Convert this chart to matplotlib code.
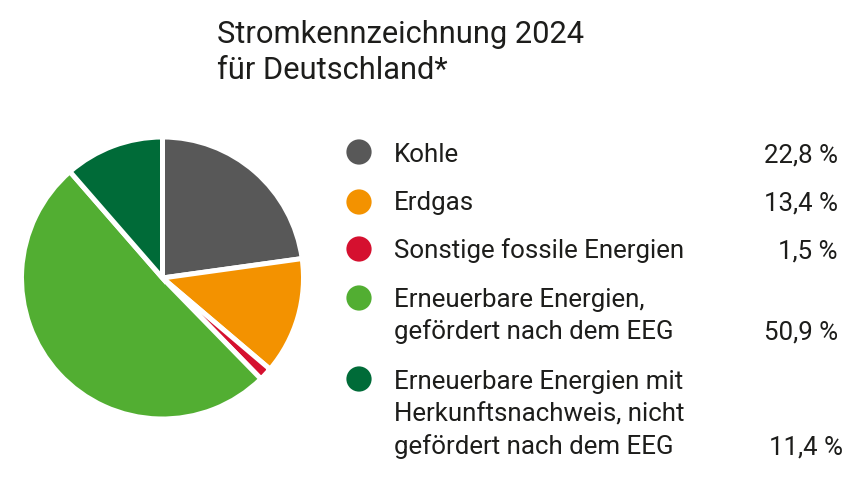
import matplotlib
matplotlib.use("Agg")
import matplotlib.pyplot as plt

categories = ["Kohle", "Erdgas", "Sonstige fossile Energien",
              "Erneuerbare Energien,\ngefördert nach dem EEG",
              "Erneuerbare Energien mit\nHerkunftsnachweis, nicht\ngefördert nach dem EEG"]
values = [22.8, 13.4, 1.5, 50.9, 11.4]
value_labels = ["22,8 %", "13,4 %", "1,5 %", "50,9 %", "11,4 %"]
colors = ["#585858", "#F39200", "#D5102F", "#52AE32", "#006B38"]
title = "Stromkennzeichnung 2024\nfür Deutschland*"

W, H = 867, 487
fig = plt.figure(figsize=(W / 100, H / 100), dpi=100)
plt.rcParams['font.family'] = ['Roboto', 'DejaVu Sans']
txt_color = "#1d1d1b"

# pie
cx, cy, r = 162.5, 278, 141
ax = fig.add_axes([(cx - r) / W, (H - cy - r) / H, 2 * r / W, 2 * r / H])
ax.pie(values, colors=colors, startangle=90, counterclock=False, radius=1,
       wedgeprops=dict(edgecolor="white", linewidth=3.6))
ax.set_xlim(-1, 1)
ax.set_ylim(-1, 1)
ax.set_aspect("equal")
ax.axis("off")

# overlay in pixel coords
ov = fig.add_axes([0, 0, 1, 1], zorder=5)
ov.set_xlim(0, W)
ov.set_ylim(H, 0)
ov.axis("off")
ov.patch.set_alpha(0)

for i, line in enumerate(title.split("\n")):
    ov.text(217, 43 + i * 36, line, fontsize=22.2, color=txt_color, va="baseline", ha="left")

marker_y = [152, 202, 249, 298, 379]
first_baseline = [162, 210, 258, 307, 389]
line_gap = 32.5
ov.scatter([359] * len(values), marker_y, s=330, c=colors, zorder=6, linewidths=0)
for i, (cat, vl) in enumerate(zip(categories, value_labels)):
    lines = cat.split("\n")
    for j, ln in enumerate(lines):
        ov.text(394, first_baseline[i] + j * line_gap, ln, fontsize=18.6, color=txt_color,
                va="baseline", ha="left")
    vx = 843 if i == 4 else 838
    ov.text(vx, first_baseline[i] + (len(lines) - 1) * line_gap, vl, fontsize=18.6,
            color=txt_color, va="baseline", ha="right")

fig.savefig("out.png", dpi=100, facecolor="white")
